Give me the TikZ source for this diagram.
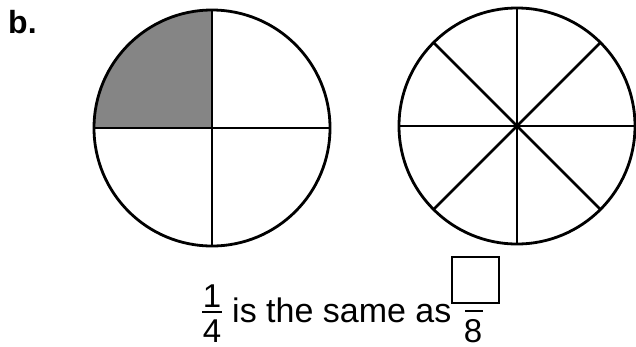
\documentclass[tikz,border=0pt]{standalone}
\usepackage{fontspec}
\setmainfont{Liberation Sans}
\usetikzlibrary{calc}
\tikzset{
  rim/.style={line width=2.8pt},
  cut/.style={line width=2.5pt},
  digit/.style={anchor=base, inner sep=0pt, font=\fontsize{33}{33}\selectfont},
}
\definecolor{quartergray}{rgb}{0.52,0.52,0.52}
\begin{document}
\begin{tikzpicture}[x=1pt, y=-1pt]
    \useasboundingbox (0,0) rectangle (636,346);
    \node[anchor=base west, inner sep=0pt, font=\fontsize{32}{32}\selectfont\bfseries] (lbl) at (8,33) {b.};

    % quarters
    \coordinate (c1) at (212,128);
    \fill[quartergray] (c1) -- (94,128) arc[start angle=180, end angle=270, radius=118] -- cycle;
    \draw[cut] (212,10) -- (212,246);
    \draw[cut] (94,128) -- (330,128);
    \draw[rim] (c1) circle (118);

    % eighths
    \coordinate (c2) at (517,126);
    \foreach \a in {0,45,...,135}
      \draw[cut] ($(c2)+(\a:118)$) -- ($(c2)+(\a+180:118)$);
    \draw[rim] (c2) circle (118);

    % sentence
    \node[digit] (num) at (212,307) {1};
    \node[digit] (den) at (212,342) {4};
    \draw[line width=1.6pt] (202,312) -- (222,312);
    \node[anchor=base west, inner sep=0pt, font=\fontsize{34}{34}\selectfont] (txt) at (232,322) {is the same as};
    \draw[line width=1.8pt] (452,257) rectangle (499,303);
    \draw[line width=1.6pt] (465,311) -- (483,311);
    \node[digit] (eig) at (473,342) {8};
  \end{tikzpicture}
\end{document}
